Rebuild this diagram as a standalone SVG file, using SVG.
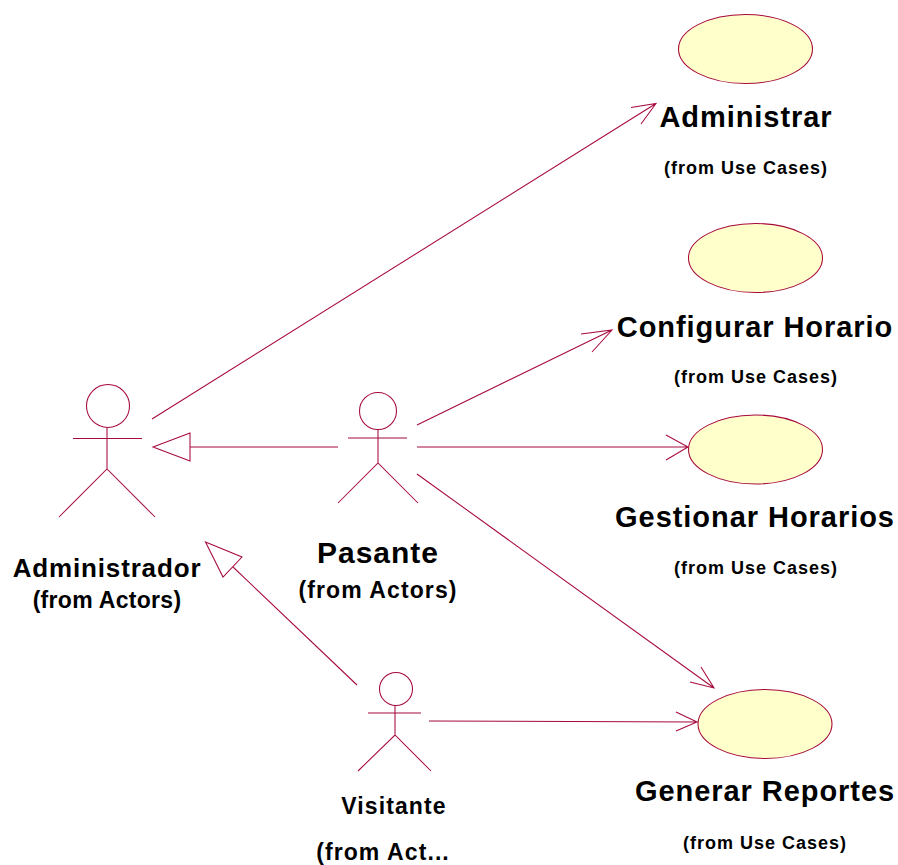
<svg xmlns="http://www.w3.org/2000/svg" width="898" height="865" viewBox="0 0 898 865">
<style>
.l{fill:none;stroke:#a60a3c;stroke-width:1.05}
.h{fill:#fff;stroke:#a60a3c;stroke-width:1.05}
.u{fill:#ffffcb;stroke:#a60a3c;stroke-width:1.05}
text{font-family:"Liberation Sans",Arial,sans-serif;font-weight:bold;fill:#000;text-anchor:middle}
.t{font-size:29px;letter-spacing:.95px}
.a{font-size:30px;letter-spacing:1px}
.n{font-size:26px;letter-spacing:.85px}
.s{font-size:18px;letter-spacing:1px}
.m{font-size:23px;letter-spacing:1.1px}
.c{font-size:23px;letter-spacing:.3px}
</style>
<rect width="898" height="865" fill="#fff"/>
<g id="connectors">
<path class="l" d="M152 419L656 103.500M631 107.500L656 103.500L641 124"/>
<path class="l" d="M417 425L612 330M581 334L612 330L592 352"/>
<path class="l" d="M417 447H688M666 435L688 447L666 460"/>
<path class="l" d="M417 474L714 688M701 667L714 688L690 682"/>
<path class="l" d="M429 721L697 722M676 712L697 722L676 731"/>
<path class="l" d="M338 447H190"/>
<path class="h" d="M190 433L153 447L190 461Z"/>
<path class="l" d="M357 685L233 567"/>
<path class="h" d="M205.500 542L242 557L223 577Z"/>
</g>
<g id="administrador"><circle class="l" cx="108" cy="406" r="21.500"/><path class="l" d="M107 428V469M73 438.500H142M59 517L107 469L155 517"/><text class="n" x="107" y="577">Administrador</text><text class="c" x="107" y="608">(from Actors)</text></g>
<g id="pasante"><circle class="l" cx="378" cy="411" r="18.500"/><path class="l" d="M378 429V463M348 438H407M338 503L378 463L418 503"/><text class="a" x="378" y="563">Pasante</text><text class="m" x="378" y="598">(from Actors)</text></g>
<g id="visitante"><ellipse class="l" cx="396" cy="689" rx="16.500" ry="16.500"/><path class="l" d="M395 705V735M368 713H421M358 771L395 735L431 771"/><text class="m" x="394" y="814">Visitante</text><text class="m" x="383" y="860">(from Act...</text></g>
<g id="administrar"><ellipse class="u" cx="745.500" cy="49" rx="67" ry="34.500"/><text class="t" x="746" y="127">Administrar</text><text class="s" x="746" y="174">(from Use Cases)</text></g>
<g id="configurar"><ellipse class="u" cx="755.500" cy="258" rx="67" ry="34.500"/><text class="t" x="755" y="337">Configurar Horario</text><text class="s" x="756" y="383">(from Use Cases)</text></g>
<g id="gestionar"><ellipse class="u" cx="755.500" cy="449.500" rx="67" ry="34.500"/><text class="t" x="755" y="527">Gestionar Horarios</text><text class="s" x="756" y="574">(from Use Cases)</text></g>
<g id="generar"><ellipse class="u" cx="765" cy="724" rx="67" ry="34.500"/><text class="t" x="765" y="801">Generar Reportes</text><text class="s" x="765" y="849">(from Use Cases)</text></g>
</svg>
